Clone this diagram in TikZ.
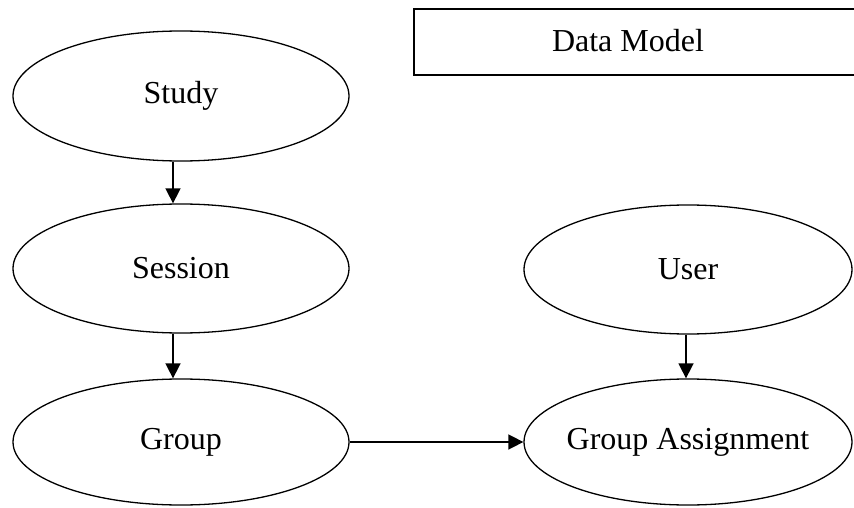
\documentclass[tikz,border=0pt]{standalone}
\usepackage{fontspec}
\setmainfont{Liberation Serif}
\usetikzlibrary{positioning, arrows.meta, shapes.geometric}

\begin{document}
\begin{tikzpicture}[
    x=1pt, y=-1pt,
    entity/.style={ellipse, draw, line width=1.3pt, inner sep=0pt, font=\fontsize{32}{38}\selectfont},
    arrow/.style={-{Triangle[length=15pt, width=15pt]}, line width=1.6pt},
    modelbox/.style={rectangle, draw, line width=1.6pt, anchor=north west, inner sep=0pt}
]
\useasboundingbox (0,0) rectangle (854,508);

% Title box, runs off the right edge
\node[modelbox, minimum width=460pt, minimum height=66pt] (model) at (413,8) {};
\node[font=\fontsize{32}{38}\selectfont] (modeltitle) at (628,41) {Data Model};

% Left column
\node[entity, minimum width=336pt, minimum height=130pt] (study) at (181,96) {Study};
\node[entity, minimum width=336pt, minimum height=129pt] (session) at (181,268.5) {Session};
\node[entity, minimum width=336pt, minimum height=126pt] (group) at (181,442) {Group};

% Right column
\node[entity, minimum width=328pt, minimum height=129pt] (user) at (688,269.5) {User};
\node[entity, minimum width=328pt, minimum height=126pt] (assign) at (688,442) {\makebox[0pt]{Group Assignment}};

% Connections
\draw[arrow] ([xshift=-8pt]study.south) -- ([xshift=-8pt]session.north);
\draw[arrow] ([xshift=-8pt]session.south) -- ([xshift=-8pt]group.north);
\draw[arrow] ([xshift=-2pt]user.south) -- ([xshift=-2pt]assign.north);
\draw[arrow] (group.east) -- (assign.west);

\end{tikzpicture}
\end{document}
